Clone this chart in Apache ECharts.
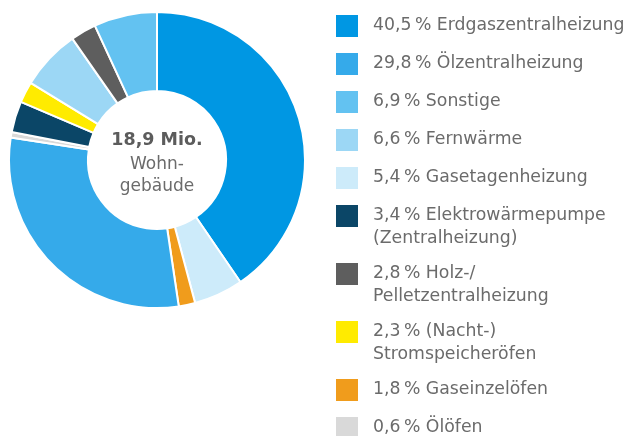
<!DOCTYPE html>
<html>
<head>
<meta charset="utf-8">
<script src="https://cdn.jsdelivr.net/npm/echarts@6/dist/echarts.min.js"></script>
<style>
  html, body { margin: 0; padding: 0; background: #fff; }
  #main { width: 637px; height: 436px; }
</style>
</head>
<body>
<div id="main"></div>
<script>
// Anteile je Heizungsart (Reihenfolge im Ring, im Uhrzeigersinn ab 12 Uhr)
var names = ["Erdgaszentralheizung", "Gasetagenheizung", "Gaseinzelöfen", "Ölzentralheizung", "Ölöfen",
  "Elektrowärmepumpe\n(Zentralheizung)", "(Nacht-)\nStromspeicheröfen", "Fernwärme",
  "Holz-/\nPelletzentralheizung", "Sonstige"];
var values = [40.5, 5.4, 1.8, 29.8, 0.6, 3.4, 2.3, 6.6, 2.8, 6.9];
var colors = ["#0097e3", "#cdebfa", "#f09c1c", "#35aaea", "#d9d9d9",
  "#0b4667", "#ffeb00", "#9cd7f5", "#5e5e5e", "#63c2f1"];
// Reihenfolge der Legende
var legendOrder = ["Erdgaszentralheizung", "Ölzentralheizung", "Sonstige", "Fernwärme", "Gasetagenheizung",
  "Elektrowärmepumpe\n(Zentralheizung)", "Holz-/\nPelletzentralheizung", "(Nacht-)\nStromspeicheröfen",
  "Gaseinzelöfen", "Ölöfen"];
var total = "18,9 Mio.";
var totalLabel = "Wohn-\ngebäude";

var myChart = echarts.init(document.getElementById("main"));
var font = "DejaVu Sans";

function fmt(v) {
  return v.toFixed(1).replace(".", ",") + "\u2009%";
}

// eine Legende pro Eintrag, damit zweizeilige Texte sauber stehen
var legends = [];
var legendTop = 15;
var lh = 23, iconH = 22;
legendOrder.forEach(function (name) {
  var lines = name.split("\n").length;
  // Text wird mittig zum Symbol gesetzt: bei zwei Zeilen eine leere Zeile davor
  var shift = Math.max(0, (2 * lines - 1) * lh / 2 - iconH / 2);
  legends.push({
    orient: "vertical",
    left: 336,
    top: legendTop - shift,
    padding: 0,
    itemWidth: 22,
    itemHeight: iconH,
    itemGap: 0,
    icon: "rect",
    selectedMode: false,
    itemStyle: { borderWidth: 0 },
    data: [name],
    formatter: function (n) {
      var s = fmt(values[names.indexOf(n)]) + " " + n;
      return lines > 1 ? "\n" + s : s;
    },
    textStyle: {
      color: "#6b6b6b",
      fontSize: 17.3,
      fontFamily: font,
      lineHeight: lh,
      padding: [0, 0, 0, 10]
    }
  });
  legendTop += 38 + (lines - 1) * 20;
});

var option = {
  color: colors,
  animation: false,
  legend: legends,
  title: {
    text: total,
    subtext: totalLabel,
    left: 157,
    top: 131,
    padding: 0,
    textAlign: "center",
    itemGap: 5,
    textStyle: { color: "#5c5c5c", fontSize: 17.5, fontWeight: "bold", fontFamily: font },
    subtextStyle: { color: "#6b6b6b", fontSize: 17, fontFamily: font, lineHeight: 22 }
  },
  series: [
    {
      type: "pie",
      center: [157, 160],
      radius: [69, 148],
      startAngle: 90,
      clockwise: true,
      label: { show: false },
      labelLine: { show: false },
      itemStyle: { borderColor: "#fff", borderWidth: 2 },
      emphasis: { disabled: true },
      data: names.map(function (n, i) {
        return { name: n, value: values[i] };
      })
    }
  ]
};

myChart.setOption(option);
</script>
</body>
</html>
